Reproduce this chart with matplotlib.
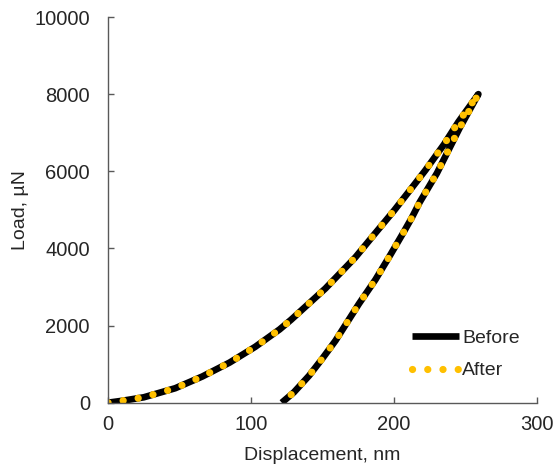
import matplotlib
matplotlib.use('Agg')
import matplotlib.pyplot as plt

plt.rcParams['font.family'] = ['Liberation Sans', 'DejaVu Sans']

# displacement (nm) and load (uN), loading then unloading
disp_before = [0, 10, 25, 47, 66, 85, 103, 120, 128, 152, 173, 187, 200, 212, 222, 235, 245, 259,
               246, 230, 218, 212.5, 206.7, 197.4, 187, 175.4, 159.1, 150, 140.6, 130, 121.5]
load_before = [0, 50, 140, 375, 680, 1040, 1450, 1900, 2150, 2960, 3770, 4400, 4980, 5550, 6030, 6700, 7280, 8000,
               7130, 5950, 5200, 4800, 4420, 3830, 3190, 2560, 1610, 1150, 700, 270, 0]
disp_after = disp_before
load_after = load_before

xticks = [0, 100, 200, 300]
yticks = [0, 2000, 4000, 6000, 8000, 10000]

fig = plt.figure(figsize=(5.55, 4.70), dpi=100)
ax = fig.add_axes([0.1946, 0.1432, 0.773, 0.8206])

ax.plot(disp_before, load_before, color='black', lw=4.8, solid_capstyle='butt', label='Before')
ax.plot(disp_after, load_after, color='#FFC000', lw=5.2, linestyle=(0, (0.01, 2.1)),
        dash_capstyle='round', label='After')

ax.set_xlim(0, 300)
ax.set_ylim(0, 10000)
ax.set_xticks(xticks)
ax.set_yticks(yticks)

for s in ['top', 'right']:
    ax.spines[s].set_visible(False)
for s in ['left', 'bottom']:
    ax.spines[s].set_color('#595959')
    ax.spines[s].set_linewidth(1.0)

ax.tick_params(axis='both', direction='in', length=4, width=1, color='#595959',
               labelsize=14.5, labelcolor='#262626')
ax.tick_params(axis='y', pad=13)
ax.tick_params(axis='x', pad=9)

ax.set_xlabel('Displacement, nm', fontsize=14, color='#262626')
ax.set_ylabel('Load, µN', fontsize=14, color='#262626')
ax.xaxis.set_label_coords(0.5, -0.115)
ax.yaxis.set_label_coords(-0.185, 0.5)

ax.legend(loc='lower right', bbox_to_anchor=(1.0, 0.015), frameon=False, fontsize=14,
          handlelength=2.4, handletextpad=0.15, labelspacing=0.75, labelcolor='#262626')

fig.savefig('out.png', dpi=100)
